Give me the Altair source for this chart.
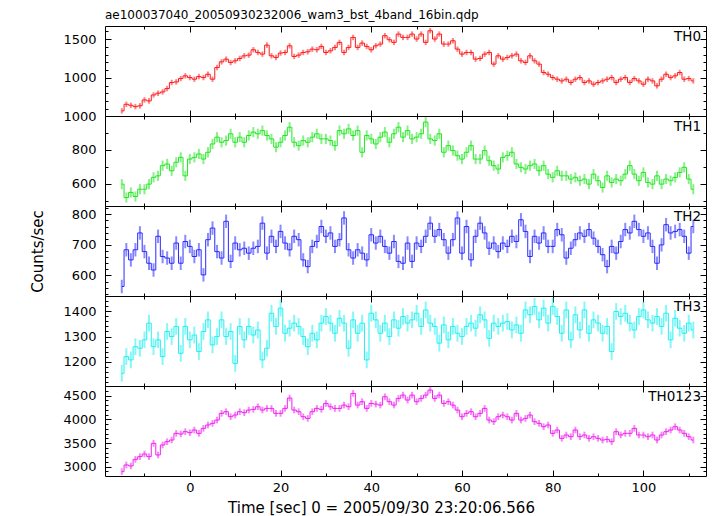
import numpy as np
import pandas as pd
import altair as alt

TITLE = "ae100037040_20050930232006_wam3_bst_4band_16bin.qdp"
X_TITLE = "Time [sec] 0 = 2005/09/30 23:20:06.566"
Y_TITLE = "Counts/sec"
FONT = "DejaVu Sans"

T_START = -15.0
T_BIN = 1.0

names = ["TH0", "TH1", "TH2", "TH3", "TH0123"]
colors = ["#ff1a1a", "#22e622", "#2a2aff", "#22f0f0", "#f022f0"]

th0 = [575, 660, 647, 630, 640, 716, 703, 780, 802, 819,
       862, 940, 948, 991, 1026, 1004, 983, 1017, 1004, 1047,
       983, 1133, 1207, 1241, 1198, 1220, 1250, 1284, 1293, 1362,
       1327, 1306, 1422, 1284, 1263, 1319, 1327, 1413, 1276, 1293,
       1327, 1336, 1370, 1362, 1405, 1327, 1349, 1392, 1457, 1327,
       1392, 1521, 1392, 1448, 1405, 1362, 1413, 1435, 1543, 1491,
       1457, 1564, 1521, 1521, 1564, 1500, 1564, 1457, 1607, 1500,
       1564, 1435, 1435, 1478, 1370, 1306, 1327, 1327, 1241, 1250,
       1306, 1327, 1177, 1284, 1241, 1263, 1284, 1306, 1220, 1198,
       1284, 1220, 1177, 1069, 1047, 1004, 983, 961, 983, 940,
       983, 1004, 940, 961, 918, 940, 961, 983, 1004, 940,
       983, 1004, 940, 991, 961, 918, 983, 961, 897, 983,
       1047, 1004, 1026, 1069, 983, 991, 961]

th1 = [598, 519, 549, 525, 568, 568, 598, 638, 647, 707,
       717, 677, 727, 756, 647, 746, 756, 776, 746, 786,
       835, 875, 845, 855, 895, 845, 875, 845, 885, 905,
       895, 914, 885, 865, 816, 845, 885, 934, 845, 825,
       855, 845, 875, 895, 865, 865, 855, 825, 914, 895,
       924, 885, 914, 786, 885, 865, 835, 875, 905, 845,
       895, 934, 875, 914, 865, 875, 895, 964, 865, 855,
       895, 786, 825, 796, 766, 746, 786, 825, 746, 746,
       796, 736, 707, 687, 756, 766, 786, 717, 697, 687,
       707, 717, 677, 707, 657, 638, 677, 647, 647, 628,
       638, 618, 628, 598, 657, 618, 578, 647, 608, 628,
       618, 657, 707, 657, 618, 667, 608, 598, 647, 598,
       628, 618, 638, 667, 697, 628, 568]

th2 = [564, 684, 651, 684, 739, 678, 640, 618, 728, 662,
       657, 640, 706, 640, 711, 695, 662, 684, 602, 717,
       755, 678, 657, 777, 646, 706, 684, 689, 673, 689,
       695, 771, 673, 728, 695, 744, 706, 684, 728, 717,
       651, 629, 695, 711, 760, 728, 739, 695, 717, 788,
       684, 657, 684, 673, 651, 733, 706, 728, 695, 673,
       711, 646, 640, 706, 646, 706, 695, 728, 771, 728,
       750, 717, 673, 717, 788, 673, 760, 651, 728, 771,
       739, 689, 706, 678, 706, 695, 728, 711, 782, 744,
       662, 728, 706, 739, 695, 695, 750, 733, 657, 689,
       717, 739, 728, 750, 722, 695, 668, 629, 695, 673,
       711, 750, 739, 777, 750, 728, 739, 695, 640, 700,
       766, 739, 744, 750, 728, 673, 760]

th3 = [1155, 1221, 1208, 1260, 1254, 1287, 1353, 1260, 1287, 1221,
       1320, 1300, 1340, 1234, 1340, 1287, 1306, 1241, 1320, 1366,
       1267, 1300, 1366, 1300, 1320, 1194, 1340, 1287, 1340, 1306,
       1326, 1208, 1254, 1392, 1340, 1412, 1313, 1333, 1353, 1340,
       1300, 1260, 1313, 1287, 1353, 1379, 1353, 1313, 1372, 1353,
       1254, 1366, 1313, 1353, 1208, 1392, 1366, 1313, 1353, 1300,
       1366, 1333, 1379, 1353, 1366, 1392, 1340, 1405, 1353, 1340,
       1274, 1346, 1287, 1340, 1313, 1300, 1340, 1353, 1333, 1386,
       1366, 1293, 1353, 1340, 1353, 1359, 1326, 1346, 1313, 1405,
       1386, 1419, 1366, 1412, 1353, 1419, 1379, 1313, 1405, 1287,
       1386, 1326, 1405, 1313, 1366, 1353, 1313, 1340, 1241, 1399,
       1379, 1392, 1353, 1326, 1379, 1405, 1366, 1353, 1379, 1340,
       1392, 1287, 1372, 1333, 1313, 1353, 1326]

th0123 = [2896, 3037, 3016, 3156, 3213, 3269, 3213, 3494, 3248, 3459,
          3529, 3564, 3705, 3691, 3740, 3719, 3775, 3705, 3810, 3881,
          3916, 3986, 4127, 4162, 4056, 4092, 4162, 4141, 4197, 4211,
          4267, 4197, 4232, 4232, 4127, 4127, 4232, 4450, 4197, 4162,
          4056, 4021, 4162, 4232, 4211, 4337, 4267, 4232, 4232, 4302,
          4267, 4548, 4302, 4373, 4232, 4337, 4323, 4302, 4478, 4373,
          4302, 4443, 4513, 4408, 4513, 4373, 4443, 4513, 4619, 4443,
          4513, 4337, 4373, 4302, 4197, 4056, 4127, 4162, 4056, 4127,
          4232, 3986, 3951, 4056, 4092, 4056, 3986, 4127, 3986, 4021,
          4092, 3951, 3916, 3845, 3881, 3705, 3775, 3599, 3670, 3634,
          3775, 3634, 3670, 3599, 3634, 3599, 3564, 3578, 3529, 3740,
          3670, 3705, 3705, 3810, 3670, 3670, 3634, 3670, 3564, 3670,
          3740, 3775, 3845, 3775, 3705, 3634, 3564]

series = [th0, th1, th2, th3, th0123]
errors = [35, 30, 22, 33, 70]

y_domains = [[509, 1668], [469, 1000], [533, 827], [1105, 1460], [2804, 4705]]
y_major = [[1000, 1500], [600, 800, 1000], [600, 700, 800],
           [1200, 1300, 1400], [3000, 3500, 4000, 4500]]
y_minor = [list(range(600, 1700, 100)), list(range(500, 1000, 100)),
           list(range(540, 830, 20)), list(range(1120, 1470, 20)),
           list(range(2900, 4800, 100))]

x_domain = [-18.7, 113.8]
x_major = [0, 20, 40, 60, 80, 100]
x_minor = [-10, 10, 30, 50, 70, 90, 110]

W, H = 601, 90
MAJ, MIN = 6, 3

panels = []
for i, (name, vals, err, col) in enumerate(zip(names, series, errors, colors)):
    n = len(vals)
    t = T_START + T_BIN * np.arange(n)
    v = np.array(vals, dtype=float)
    df = pd.DataFrame({"t": t, "v": v, "lo": v - err, "hi": v + err})
    base = alt.Chart(df)
    xs = alt.Scale(domain=x_domain, nice=False, zero=False)
    ys = alt.Scale(domain=y_domains[i], nice=False, zero=False)
    last = i == len(names) - 1

    ax_bottom = alt.Axis(orient="bottom", offset=-MAJ, tickSize=MAJ, values=x_major,
                         domain=False, grid=False, labels=last, labelPadding=5,
                         labelFontSize=13, format="d", title=X_TITLE if last else None,
                         titleFontSize=15, titlePadding=6, titleX=276, titleAlign="center",
                         titleFontWeight="normal")
    ax_top = alt.Axis(orient="top", offset=-MAJ, tickSize=MAJ, values=x_major,
                      domain=False, grid=False, labels=False, title=None)
    ax_bottom_min = alt.Axis(orient="bottom", offset=-MIN, tickSize=MIN, values=x_minor,
                             domain=False, grid=False, labels=False, title=None)
    ax_top_min = alt.Axis(orient="top", offset=-MIN, tickSize=MIN, values=x_minor,
                          domain=False, grid=False, labels=False, title=None)

    ax_left = alt.Axis(orient="left", offset=-MAJ, tickSize=MAJ, values=y_major[i],
                       domain=False, grid=False, labelPadding=9, labelFontSize=13,
                       format="d",
                       title=Y_TITLE if name == "TH2" else None, titleFontSize=15,
                       titlePadding=26, titleFontWeight="normal")
    ax_right = alt.Axis(orient="right", offset=-MAJ, tickSize=MAJ, values=y_major[i],
                        domain=False, grid=False, labels=False, title=None)
    ax_left_min = alt.Axis(orient="left", offset=-MIN, tickSize=MIN, values=y_minor[i],
                           domain=False, grid=False, labels=False, title=None)
    ax_right_min = alt.Axis(orient="right", offset=-MIN, tickSize=MIN, values=y_minor[i],
                            domain=False, grid=False, labels=False, title=None)

    bars = base.mark_rule(clip=True, color=col, opacity=0.55, strokeWidth=2).encode(
        x=alt.X("t:Q", scale=xs, axis=ax_bottom),
        y=alt.Y("lo:Q", scale=ys, axis=ax_left),
        y2="hi:Q",
    )
    line = base.mark_line(clip=True, color=col, strokeWidth=1, interpolate="step").encode(
        x=alt.X("t:Q", scale=xs, axis=ax_top),
        y=alt.Y("v:Q", scale=ys, axis=ax_right),
    )
    inv1 = base.mark_point(opacity=0, size=1).encode(
        x=alt.X("t:Q", scale=xs, axis=ax_bottom_min),
        y=alt.Y("v:Q", scale=ys, axis=ax_left_min),
    )
    inv2 = base.mark_point(opacity=0, size=1).encode(
        x=alt.X("t:Q", scale=xs, axis=ax_top_min),
        y=alt.Y("v:Q", scale=ys, axis=ax_right_min),
    )
    label = alt.Chart(pd.DataFrame({"label": [name]})).mark_text(
        align="right", baseline="middle", fontSize=13.5, font=FONT, color="black"
    ).encode(x=alt.value(W - 5), y=alt.value(10.5), text="label:N")

    layer = alt.layer(bars, line, inv1, inv2, label).resolve_axis(
        x="independent", y="independent"
    ).properties(width=W, height=H)
    if i == 0:
        layer = layer.properties(title=alt.TitleParams(
            TITLE, anchor="start", frame="group", fontSize=12, font=FONT,
            fontWeight="normal", color="black", offset=4))
    panels.append(layer)

chart = alt.vconcat(*panels, spacing=0, bounds="flush").properties(
    padding={"left": 21, "top": 0, "right": 2, "bottom": 0}
).configure_view(stroke="black", strokeWidth=1).configure_axis(
    labelFont=FONT, titleFont=FONT, labelColor="black", titleColor="black",
    tickColor="black", tickWidth=1, grid=False
).configure_title(font=FONT)

chart.save("out.html", embed_options={"renderer": "svg", "actions": False})
